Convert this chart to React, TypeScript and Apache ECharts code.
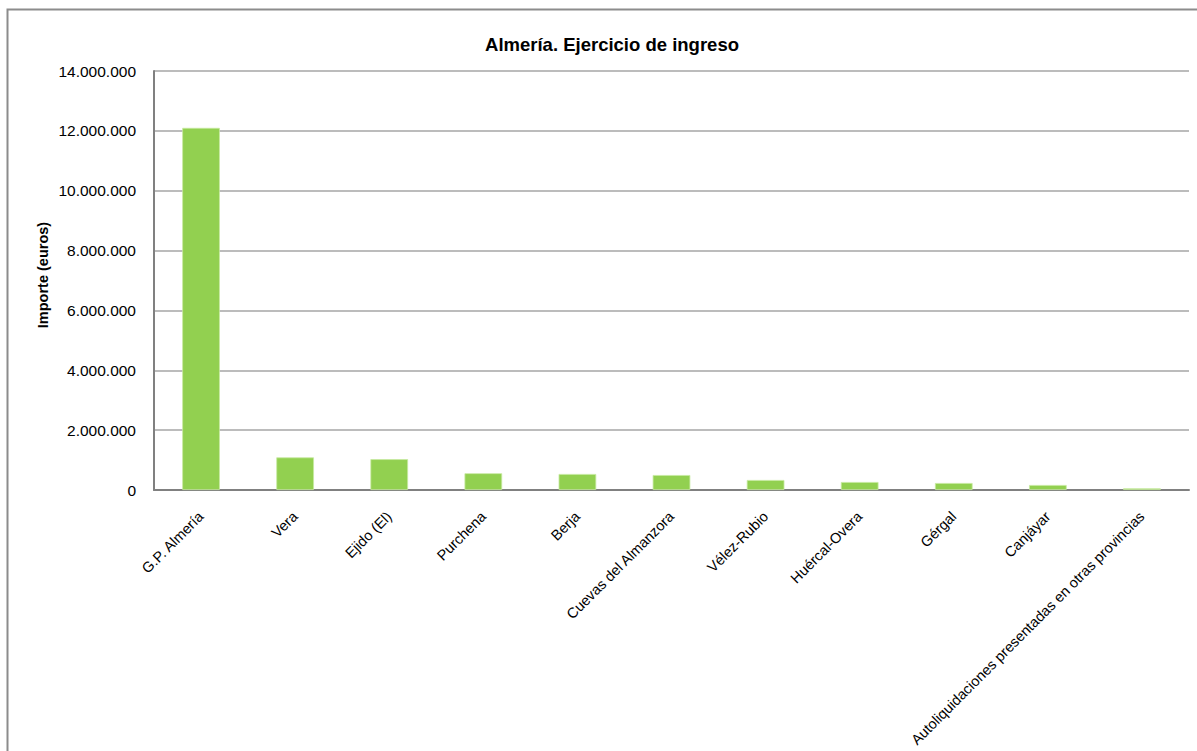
import React, { useEffect, useRef } from "react";
import * as echarts from "echarts";

const categories = [
  "G.P. Almería",
  "Vera",
  "Ejido (El)",
  "Purchena",
  "Berja",
  "Cuevas del Almanzora",
  "Vélez-Rubio",
  "Huércal-Overa",
  "Gérgal",
  "Canjáyar",
  "Autoliquidaciones presentadas en otras provincias",
];
const values = [12100000, 1090000, 1030000, 560000, 535000, 500000, 334000, 267000, 234000, 167000, 57000];

const titleText = "Almería. Ejercicio de ingreso";
const yAxisName = "Importe (euros)";

const FONT = "'Liberation Sans', Arial, sans-serif";

function fmt(v: number): string {
  return String(Math.round(v)).replace(/\B(?=(\d{3})+(?!\d))/g, ".");
}

export default function App() {
  const ref = useRef<HTMLDivElement>(null);
  useEffect(() => {
    if (!ref.current) return;
    const chart = echarts.init(ref.current, undefined, { renderer: "svg" });
    chart.setOption({
      animation: false,
      backgroundColor: "#ffffff",
      title: {
        text: titleText,
        left: 607,
        textAlign: "center",
        top: 30,
        textStyle: { fontFamily: FONT, fontSize: 18.5, fontWeight: "bold", color: "#000" },
      },
      graphic: [
        {
          type: "rect",
          shape: { x: 7.5, y: 9.5, width: 1400, height: 1000 },
          style: { fill: "none", stroke: "#8c8c8c", lineWidth: 2 },
          silent: true,
        },
        {
          type: "text",
          x: 43,
          y: 275,
          rotation: Math.PI / 2,
          style: {
            text: yAxisName,
            fontFamily: FONT,
            fontSize: 14.5,
            fontWeight: "bold",
            fill: "#000",
            align: "center",
            verticalAlign: "middle",
          },
          silent: true,
        },
      ],
      grid: { left: 154, right: 8, top: 71, bottom: 261, containLabel: false },
      xAxis: {
        type: "category",
        data: categories,
        axisLine: { show: true, lineStyle: { color: "#808080", width: 2 } },
        axisTick: { show: false },
        axisLabel: {
          rotate: 45,
          interval: 0,
          margin: 24,
          fontFamily: FONT,
          fontSize: 14.5,
          color: "#000",
        },
      },
      yAxis: {
        type: "value",
        min: 0,
        max: 14000000,
        interval: 2000000,
        axisLine: { show: true, lineStyle: { color: "#808080", width: 2 } },
        axisTick: { show: false },
        splitLine: { show: true, lineStyle: { color: "#a6a6a6", width: 1.5 } },
        axisLabel: {
          formatter: (v: number) => fmt(v),
          margin: 18,
          fontFamily: FONT,
          fontSize: 15.5,
          color: "#000",
        },
      },
      series: [
        {
          type: "bar",
          data: values,
          barWidth: "40%",
          itemStyle: { color: "#92D050", borderColor: "#c6eaa0", borderWidth: 0.8 },
        },
      ],
    });
    return () => chart.dispose();
  }, []);
  return (
    <div
      ref={ref}
      style={{ position: "fixed", left: 0, top: 0, width: 1197, height: 751 }}
    />
  );
}
